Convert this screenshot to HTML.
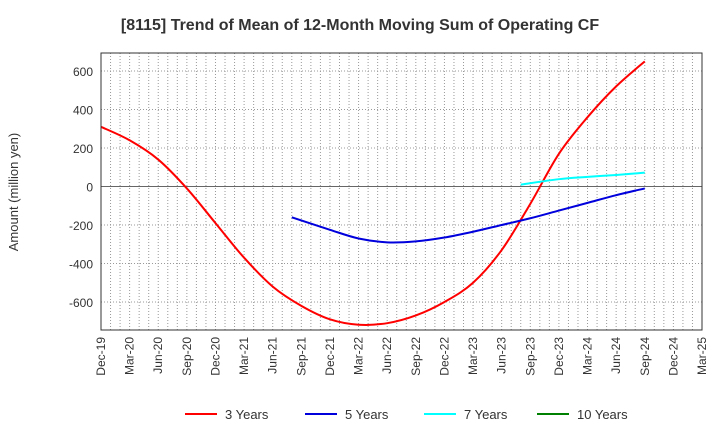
<!DOCTYPE html>
<html><head><meta charset="utf-8"><style>
body{margin:0;background:#fff;font-family:"Liberation Sans",sans-serif}
svg text{font-family:"Liberation Sans",sans-serif}
</style></head><body>
<svg id="c" width="720" height="440" xmlns="http://www.w3.org/2000/svg">
<text x="360" y="30" text-anchor="middle" font-size="16" font-weight="bold" fill="#333">[8115]  Trend of Mean of 12-Month Moving Sum of Operating CF</text>
<text transform="translate(18,192) rotate(-90)" text-anchor="middle" font-size="13" fill="#333">Amount (million yen)</text>
<g id="grid"></g><g id="series"></g><g id="axes"></g><g id="legend"></g>
</svg>
<script>
const xLabels=["Dec-19","Mar-20","Jun-20","Sep-20","Dec-20","Mar-21","Jun-21","Sep-21","Dec-21","Mar-22","Jun-22","Sep-22","Dec-22","Mar-23","Jun-23","Sep-23","Dec-23","Mar-24","Jun-24","Sep-24","Dec-24","Mar-25"];
const yTicks=[-600,-400,-200,0,200,400,600];
const s3=[310,240,140,-10,-190,-370,-520,-620,-690,-718,-710,-670,-600,-500,-330,-90,170,360,520,650];
const s3Months=[0,3,6,9,12,15,18,21,24,27,30,33,36,39,42,45,48,51,54,57];
const s5=[-160,-225,-270,-290,-285,-265,-235,-200,-165,-125,-85,-45,-10];
const s5Months=[20,24,27,30,33,36,39,42,45,48,51,54,57];
const s7=[10,38,50,60,72];
const s7Months=[44,48,51,54,57];
const names=["3 Years","5 Years","7 Years","10 Years"];
const colors=["#ff0000","#0000dd","#00ffff","#008000"];
const L=101,R=702,T=53,B=330;
const X=m=>L+m*(R-L)/63;
const Y=v=>186.5-v*0.1925;
const ns="http://www.w3.org/2000/svg";
function mk(p,t,a){const e=document.createElementNS(ns,t);for(const k in a)e.setAttribute(k,a[k]);document.getElementById(p).appendChild(e);return e;}
for(let m=0;m<=63;m++){const l=mk("grid","line",{x1:X(m),x2:X(m),y1:T,y2:B,stroke:"#999","stroke-dasharray":"1,2","stroke-width":1});

}
for(let v=-600;v<=600;v+=200){const l=mk("grid","line",{x1:L,x2:R,y1:Y(v),y2:Y(v),stroke:v===0?"#666":"#999","stroke-dasharray":v===0?"":"1,2","stroke-width":1});

}
const fr=mk("axes","rect",{x:L,y:T,width:R-L,height:B-T,fill:"none",stroke:"#333"});


yTicks.forEach(v=>{const t=mk("axes","text",{x:L-8,y:Y(v)+5,"text-anchor":"end","font-size":12,fill:"#333"});t.textContent=v;

});
xLabels.forEach((s,i)=>{const x=X(i*3);const t=mk("axes","text",{transform:`translate(${x+4},${B+7}) rotate(-90)`,"text-anchor":"end","font-size":12,fill:"#333"});t.textContent=s;

});
function path(vals,months){const p=vals.map((v,i)=>[X(months[i]),Y(v)]);let d=`M${p[0][0]},${p[0][1]}`;
for(let i=0;i<p.length-1;i++){const p0=p[i-1]||p[i],p1=p[i],p2=p[i+1],p3=p[i+2]||p2;
d+=` C${p1[0]+(p2[0]-p0[0])/6},${p1[1]+(p2[1]-p0[1])/6} ${p2[0]-(p3[0]-p1[0])/6},${p2[1]-(p3[1]-p1[1])/6} ${p2[0]},${p2[1]}`;}return d;}
[[s3,s3Months,"line-3-years"],[s5,s5Months,"line-5-years"],[s7,s7Months,"line-7-years"]].forEach(([v,m,n],i)=>{
const e=mk("series","path",{d:path(v,m),fill:"none",stroke:colors[i],"stroke-width":2});

});
const lx=[185,305,424,537];
names.forEach((n,i)=>{const g=mk("legend","g",{});


const l=document.createElementNS(ns,"line");l.setAttribute("x1",lx[i]);l.setAttribute("x2",lx[i]+32);l.setAttribute("y1",414);l.setAttribute("y2",414);l.setAttribute("stroke",colors[i]);l.setAttribute("stroke-width",2);g.appendChild(l);
const t=document.createElementNS(ns,"text");t.setAttribute("x",lx[i]+40);t.setAttribute("y",419);t.setAttribute("font-size",13);t.setAttribute("fill","#333");t.textContent=n;g.appendChild(t);});
</script>
</body></html>
